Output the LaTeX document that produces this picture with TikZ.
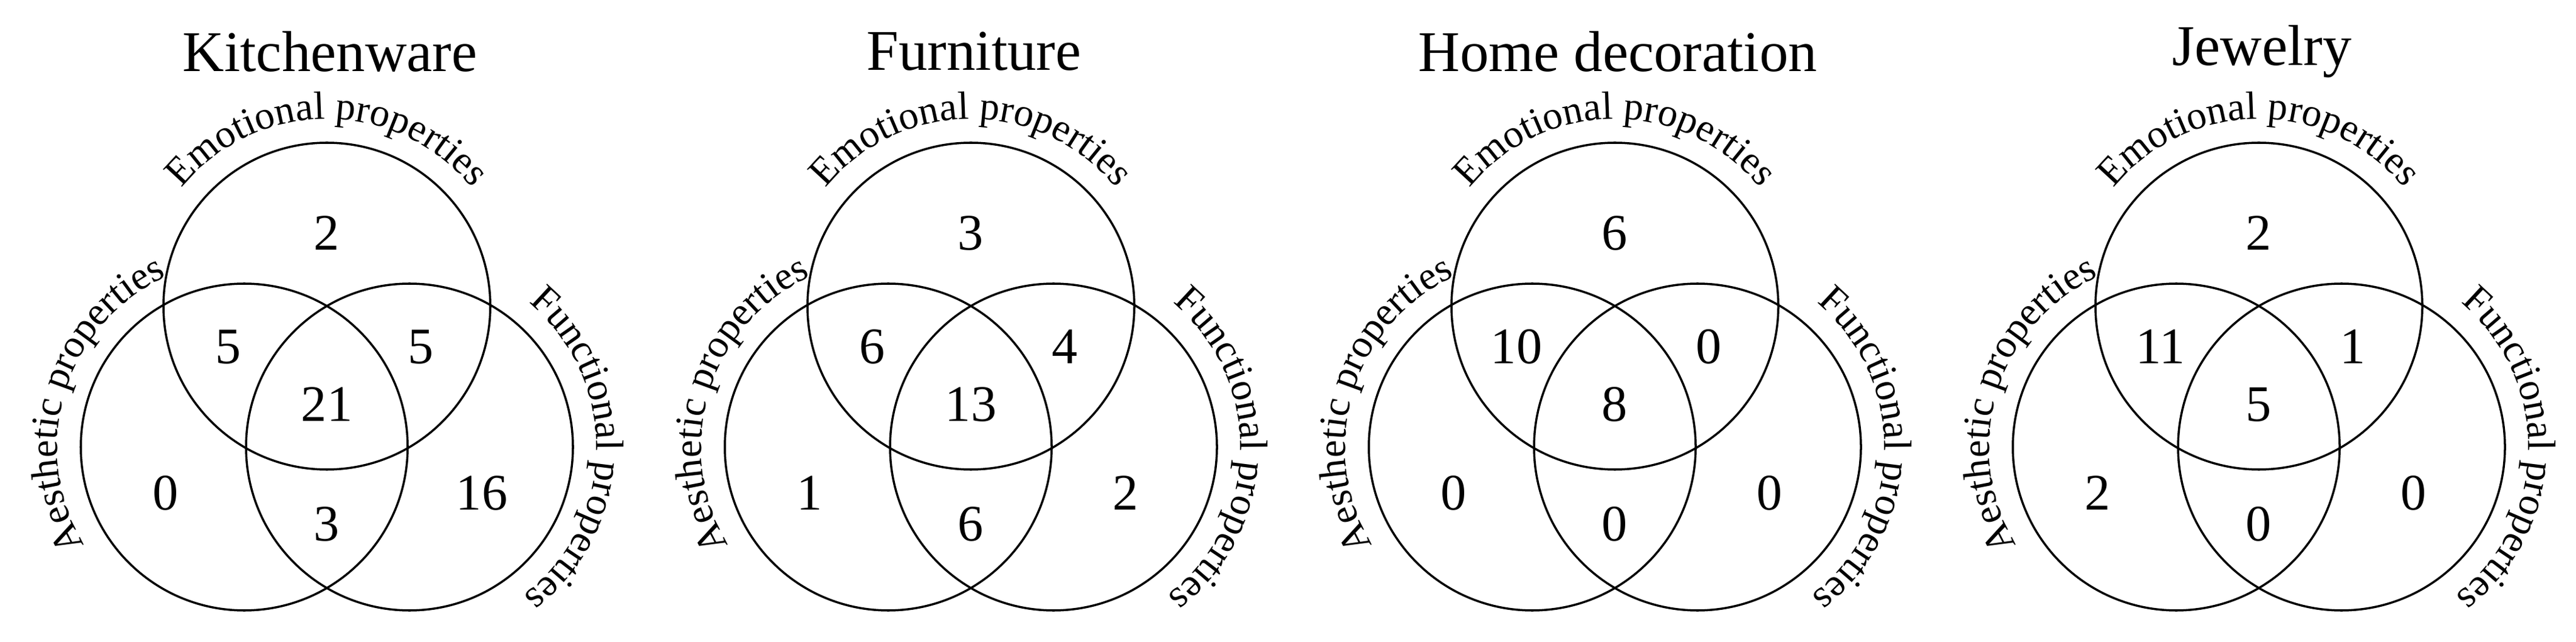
\documentclass[tikz,border=0pt]{standalone}
\usepackage{fontspec}
\setmainfont{Liberation Serif}
\usetikzlibrary{decorations.text,calc}
\tikzset{
  ring/.style={draw,line width=1pt},
  num/.style={font=\fontsize{24}{26}\selectfont},
  ttl/.style={font=\fontsize{27}{30}\selectfont}
}
\newcommand\lblfont{\fontsize{18.5}{20}\selectfont}
\newcommand\venndiag[9]{%
  \coordinate (#1O) at (#2,5.52);
  \coordinate (#1L) at ($(#1O)+(-1.36,-2.32)$);
  \coordinate (#1R) at ($(#1O)+(1.36,-2.32)$);
  \draw[ring] (#1O) circle[radius=2.69];
  \draw[ring] (#1L) circle[radius=2.69];
  \draw[ring] (#1R) circle[radius=2.69];
  \node[ttl] (#1t) at ($(#1O)+(0.05,4.19)$) {#3};
  \path[decorate,decoration={text along path,text align=center,
     text={|\lblfont|Emotional properties}}]
     ($(#1O)+(180:3.08)$) arc[start angle=180,end angle=0,radius=3.08];
  \path[decorate,decoration={text along path,text align=center,
     text={|\lblfont|Aesthetic properties}}]
     ($(#1L)+(253:3.08)$) arc[start angle=253,end angle=73,radius=3.08];
  \path[decorate,decoration={text along path,text align=center,
     text={|\lblfont|Functional properties}}]
     ($(#1R)+(89:3.08)$) arc[start angle=89,end angle=-91,radius=3.08];
  \node[num] (#1a) at ($(#1O)+(0,1.2)$) {#4};
  \node[num] (#1b) at ($(#1O)+(-1.62,-0.67)$) {#5};
  \node[num] (#1c) at ($(#1O)+(1.55,-0.67)$) {#6};
  \node[num] (#1d) at ($(#1O)+(0,-1.62)$) {#7};
  \node[num] (#1e) at ($(#1O)+(-2.65,-3.08)$) {#8};
  \node[num] (#1f) at ($(#1O)+(0,-3.59)$) {#9};
}
\begin{document}
\begin{tikzpicture}
\useasboundingbox (0,0) rectangle (42.4,10.56);
\fill[white] (0,0) rectangle (42.4,10.56);
\venndiag{k}{5.38}{Kitchenware}{2}{5}{5}{21}{0}{3}
\node[num] (kg) at ($(kO)+(2.55,-3.08)$) {16};
\venndiag{f}{15.98}{Furniture}{3}{6}{4}{13}{1}{6}
\node[num] (fg) at ($(fO)+(2.55,-3.08)$) {2};
\venndiag{h}{26.58}{Home decoration}{6}{10}{0}{8}{0}{0}
\node[num] (hg) at ($(hO)+(2.55,-3.08)$) {0};
\venndiag{j}{37.18}{Jewelry}{2}{11}{1}{5}{2}{0}
\node[num] (jg) at ($(jO)+(2.55,-3.08)$) {0};
\end{tikzpicture}
\end{document}
